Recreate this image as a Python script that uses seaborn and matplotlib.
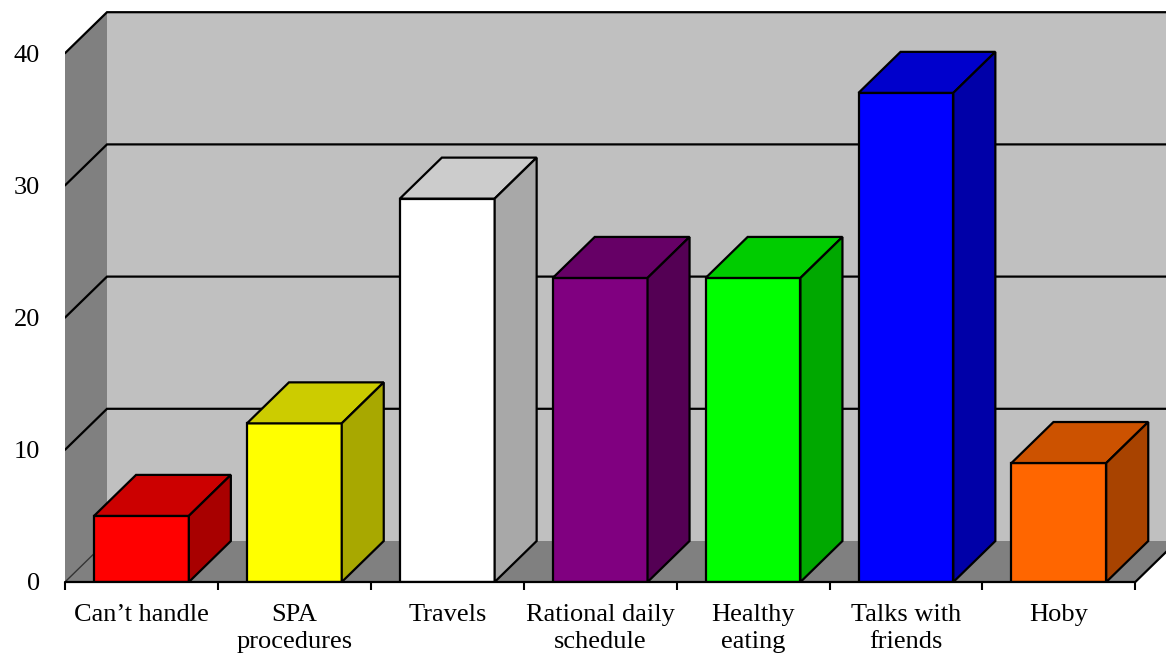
import numpy as np
import pandas as pd
import matplotlib
matplotlib.use("Agg")
import matplotlib.pyplot as plt
from matplotlib.patches import Polygon
from matplotlib.colors import to_rgb
import seaborn as sns

# ---- data ----
categories = ["Can’t handle", "SPA\nprocedures", "Travels", "Rational daily\nschedule",
              "Healthy\neating", "Talks with\nfriends", "Hoby"]
values = [5, 12, 29, 23, 23, 37, 9]
y_ticks = [0, 10, 20, 30, 40]

# ---- styling ----
face_colors = ["#FF0000", "#FFFF00", "#FFFFFF", "#800080", "#00FF00", "#0000FF", "#FF6600"]
back_wall = "#C0C0C0"
side_wall = "#808080"
TOP_SHADE, SIDE_SHADE = 0.80, 0.66

sns.set_theme(style="white")
plt.rcParams["font.family"] = ["Liberation Serif", "DejaVu Serif"]

W, H = 1166, 654
fig = plt.figure(figsize=(W / 100, H / 100), dpi=100, facecolor="white")
x0, ybase = 65, 582                     # front-left corner of the floor, in pixels
ax = fig.add_axes([x0 / W, (H - ybase) / H, (W - x0) / W, ybase / H])
ax.set_facecolor("none")

cat_px = 152.9                          # width of one category slot
unit_px = 13.22                         # pixels per value unit
n = len(categories)
dx = 42 / cat_px                        # depth offset of the 3-D box
dy = 41 / unit_px

df = pd.DataFrame({"category": categories, "value": values})
sns.barplot(data=df, x="category", y="value", hue="category", palette=face_colors,
            saturation=1, width=0.62, edgecolor="black", linewidth=1.6,
            legend=False, ax=ax, zorder=3)
fronts = list(ax.patches)


def shade(c, k):
    r, g, b = to_rgb(c)
    return (r * k, g * k, b * k)


# top and side faces of every bar
for p, c in zip(fronts, face_colors):
    x, w, h = p.get_x(), p.get_width(), p.get_height()
    top = [(x, h), (x + w, h), (x + w + dx, h + dy), (x + dx, h + dy)]
    side = [(x + w, 0), (x + w + dx, dy), (x + w + dx, h + dy), (x + w, h)]
    ax.add_patch(Polygon(top, closed=True, facecolor=shade(c, TOP_SHADE),
                         edgecolor="black", linewidth=1.6, zorder=3, joinstyle="miter"))
    ax.add_patch(Polygon(side, closed=True, facecolor=shade(c, SIDE_SHADE),
                         edgecolor="black", linewidth=1.6, zorder=3, joinstyle="miter"))

left, right = -0.5, n - 0.5
ymax = y_ticks[-1]

# walls and floor
ax.add_patch(Polygon([(left + dx, dy), (right + dx, dy), (right + dx, ymax + dy), (left + dx, ymax + dy)],
                     closed=True, facecolor=back_wall, edgecolor="none", zorder=0))
ax.add_patch(Polygon([(left, 0), (left + dx, dy), (left + dx, ymax + dy), (left, ymax)],
                     closed=True, facecolor=side_wall, edgecolor="none", zorder=0))
ax.add_patch(Polygon([(left, 0), (right, 0), (right + dx, dy), (left + dx, dy)],
                     closed=True, facecolor=side_wall, edgecolor="none", zorder=0))

# gridlines on the back and left walls
for v in y_ticks[1:]:
    ax.plot([left, left + dx, right + dx], [v, v + dy, v + dy], color="black", lw=1.6,
            zorder=1, solid_joinstyle="miter")

# floor edges
ax.plot([left, left + dx], [0, dy], color="#333333", lw=1.0, zorder=1)
ax.plot([left, right, right + dx], [0, 0, dy], color="black", lw=1.6, zorder=4,
        clip_on=False, solid_joinstyle="miter")

ax.set_xlim(left, left + (W - x0) / cat_px)
ax.set_ylim(0, ybase / unit_px)

# axes ticks and labels
ax.set_xticks(np.arange(left, right + 0.01, 1.0))
ax.set_xticklabels([])
ax.set_xticks(np.arange(n), categories, minor=True)
for lab in ax.get_xticklabels(minor=True):
    lab.set_linespacing(1.26)
ax.tick_params(axis="x", which="major", length=5.5, width=1.5, color="black",
               direction="out", bottom=True, labelbottom=False)
ax.tick_params(axis="x", which="minor", length=0, pad=16, labelsize=19, labelcolor="black")
ax.set_yticks(y_ticks)
ax.set_yticklabels([str(t) for t in y_ticks])
ax.tick_params(axis="y", length=0, pad=18, labelsize=19, labelcolor="black")
for s in ax.spines.values():
    s.set_visible(False)
ax.grid(False)
ax.set_xlabel("")
ax.set_ylabel("")

fig.savefig("out.png", dpi=100, facecolor="white")
